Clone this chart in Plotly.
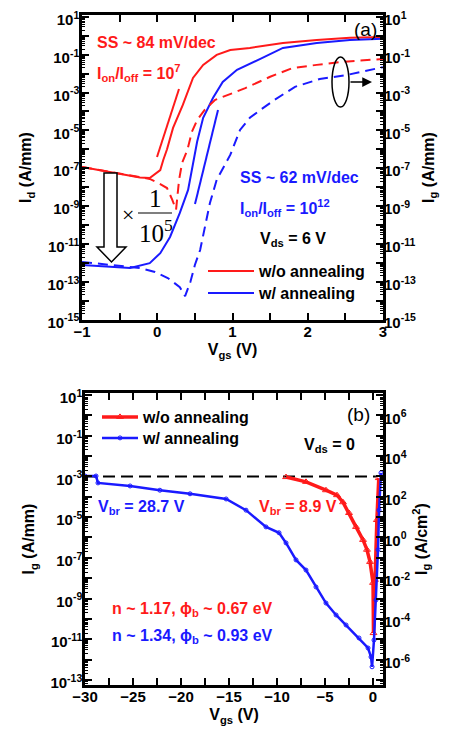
import plotly.graph_objects as go

# ---------------- data ----------------
# (a) transfer curves, Vds = 6 V
vgs_id_wo = [-1, -0.63, -0.23, -0.10, 0.04, 0.08, 0.13, 0.21, 0.34, 0.475, 0.61, 0.79, 0.97, 1.23, 1.67, 2.12, 2.56, 3.0]
id_wo = [1.15e-7, 6.3e-8, 3.2e-8, 3.0e-8, 7.9e-8, 2.7e-7, 1.0e-6, 1.35e-5, 2.2e-4, 5.9e-3, 2.9e-2, 9.8e-2, 0.178, 0.229, 0.417, 0.60, 0.78, 0.87]

vgs_id_w = [-1, -0.36, -0.10, 0.04, 0.17, 0.30, 0.41, 0.46, 0.53, 0.61, 0.74, 0.87, 1.06, 1.37, 1.67, 2.12, 2.56, 3.0]
id_w = [7.6e-13, 5.2e-13, 9.5e-13, 3.2e-12, 2.3e-11, 4.3e-10, 7.1e-9, 1.0e-7, 2.5e-6, 4.6e-5, 5.1e-4, 3.6e-3, 1.6e-2, 6.0e-2, 0.229, 0.417, 0.60, 0.69]

vgs_ig_wo = [-1, -0.63, -0.23, -0.10, 0.04, 0.13, 0.20, 0.25, 0.29, 0.33, 0.40, 0.46, 0.53, 0.63, 0.77, 0.93, 1.17, 1.50, 1.80, 2.12, 2.47, 3.0]
ig_wo = [1.15e-7, 6.3e-8, 3.2e-8, 2.7e-8, 1.45e-8, 8.9e-9, 2.1e-9, 6.3e-10, 2.4e-8, 1.9e-7, 9.1e-7, 8.3e-6, 3.5e-5, 1.2e-4, 4.1e-4, 7.4e-4, 1.7e-3, 6.8e-3, 2.0e-2, 2.9e-2, 4.2e-2, 6.0e-2]

vgs_ig_w = [-1, -0.23, -0.03, 0.14, 0.30, 0.37, 0.44, 0.50, 0.57, 0.63, 0.70, 0.79, 0.86, 0.97, 1.10, 1.23, 1.37, 1.56, 1.83, 2.16, 2.52, 3.0]
ig_w = [1.1e-12, 5.2e-13, 3.2e-13, 1.55e-13, 5.1e-14, 1.7e-14, 9.5e-14, 7.6e-13, 4.7e-12, 7.8e-11, 1.45e-9, 2.4e-8, 7.9e-8, 5.0e-7, 1.05e-5, 4.6e-5, 1.2e-4, 4.1e-4, 2.0e-3, 5.2e-3, 8.5e-3, 2.2e-2]

# (b) gate diode, Vds = 0
vgs_b_wo = [-9.06, -6.98, -4.90, -3.75, -3.13, -2.50, -1.77, -1.04, -0.63, -0.31, 0.0, 0.05, 0.2, 0.4, 0.6]
ig_b_wo = [9.3e-4, 5.4e-4, 2.1e-4, 1.2e-4, 5.4e-5, 1.6e-5, 3.3e-6, 7.6e-7, 2.5e-7, 6.3e-8, 5.9e-9, 2.0e-11, 8.3e-9, 7.2e-6, 8.3e-4]

vgs_b_w = [-30, -28.85, -28.65, -25.3, -22.2, -19.06, -15.3, -13.23, -11.15, -9.79, -9.06, -8.02, -6.98, -5.94, -4.90, -3.85, -2.81, -1.46, -0.52, -0.21, -0.10, 0.10, 0.31, 0.52, 0.63, 0.83]
ig_b_w = [1.05e-3, 1.05e-3, 4.8e-4, 3.4e-4, 2.1e-4, 1.4e-4, 7.8e-5, 2.2e-5, 3.3e-6, 1.7e-6, 5.4e-7, 7.9e-8, 2.5e-8, 3.7e-9, 6.0e-10, 1.55e-10, 5.0e-11, 1.15e-11, 3.7e-12, 1.35e-12, 4.4e-13, 9.1e-12, 8.5e-10, 2.5e-7, 2.2e-5, 1.5e-3]

compliance_v = [-30, 0.3]
compliance_i = [1e-3, 1e-3]

# tick labels
a_x_ticks = [-1, 0, 1, 2, 3]
a_y_label_exps = [1, -1, -3, -5, -7, -9, -11, -13, -15]
b_x_ticks = [-30, -25, -20, -15, -10, -5, 0]
b_left_label_exps = [1, -1, -3, -5, -7, -9, -11, -13]
b_right_label_exps = [6, 4, 2, 0, -2, -4, -6]

RED = "#ff1a1a"
BLUE = "#1a1aff"
FONT = "Liberation Sans"

# ---------------- geometry helpers (decorations only) ----------------
W, H = 452, 730
ML, MR, MT, MB = 82, 69, 15, 45
PW, PH = W - ML - MR, H - MT - MB


def fx(x):
    return (x - ML) / PW


def fy(y):
    return (H - MB - y) / PH


def log_ticks(lo, hi, label_exps):
    vals, texts = [], []
    for e in range(lo, hi + 1):
        vals.append(10.0 ** e)
        texts.append(f"10<sup>{e}</sup>" if e in label_exps else "")
    minor = [m * 10.0 ** e for e in range(lo - 1, hi + 1) for m in range(2, 10)]
    return vals, texts, minor


fig = go.Figure()

# (a) traces
fig.add_trace(go.Scatter(x=vgs_id_wo, y=id_wo, mode="lines", line=dict(color=RED, width=2),
                         name="w/o annealing", xaxis="x", yaxis="y", legend="legend"))
fig.add_trace(go.Scatter(x=vgs_id_w, y=id_w, mode="lines", line=dict(color=BLUE, width=2),
                         name="w/ annealing", xaxis="x", yaxis="y", legend="legend3"))
fig.add_trace(go.Scatter(x=vgs_ig_wo, y=ig_wo, mode="lines", line=dict(color=RED, width=2, dash="10px,6px"),
                         showlegend=False, xaxis="x", yaxis="y3"))
fig.add_trace(go.Scatter(x=vgs_ig_w, y=ig_w, mode="lines", line=dict(color=BLUE, width=2, dash="10px,6px"),
                         showlegend=False, xaxis="x", yaxis="y3"))

# (b) traces
fig.add_trace(go.Scatter(x=compliance_v, y=compliance_i, mode="lines",
                         line=dict(color="black", width=2, dash="12px,6px"),
                         showlegend=False, xaxis="x2", yaxis="y2"))
fig.add_trace(go.Scatter(x=vgs_b_wo, y=ig_b_wo, mode="lines+markers",
                         line=dict(color=RED, width=3.5),
                         marker=dict(symbol="triangle-up-open", size=6, color=RED, line=dict(width=1)),
                         name="w/o annealing", xaxis="x2", yaxis="y2", legend="legend2"))
fig.add_trace(go.Scatter(x=vgs_b_w, y=ig_b_w, mode="lines+markers",
                         line=dict(color=BLUE, width=2.5),
                         marker=dict(symbol="circle-open", size=4, color=BLUE, line=dict(width=1)),
                         name="w/ annealing", xaxis="x2", yaxis="y2", legend="legend4"))
# empty trace so that the right-hand (A/cm^2) axis of (b) is drawn
fig.add_trace(go.Scatter(x=[], y=[], mode="lines", showlegend=False, hoverinfo="skip",
                         xaxis="x2", yaxis="y4"))

tickfont = dict(family=FONT, size=15, color="black", weight="bold")
titlefont = dict(family=FONT, size=16, color="black", weight="bold")

common_axis = dict(showline=True, linecolor="black", linewidth=2.5, ticks="inside",
                   tickcolor="black", tickwidth=2, ticklen=7, showgrid=False, zeroline=False,
                   tickfont=tickfont, automargin=False)

a_dom = [fy(320), fy(15)]
b_dom = [fy(685), fy(393)]

ay_vals, ay_text, ay_minor = log_ticks(-15, 1, a_y_label_exps)
by_vals, by_text, by_minor = log_ticks(-13, 1, b_left_label_exps)
br_vals, br_text, br_minor = log_ticks(-7, 7, b_right_label_exps)

legfont = dict(family=FONT, size=16, color="black", weight="bold")


def leg(x, y, w):
    return dict(x=fx(x), y=fy(y), xanchor="left", yanchor="middle", bgcolor="rgba(0,0,0,0)",
                font=legfont, itemwidth=w, tracegroupgap=0, borderwidth=0)


xa_extra = dict(ticklabelstandoff=-4)
ya_left_extra = dict(ticklabelstandoff=-3, ticklabelshift=3)
ya_right_extra = dict(ticklabelstandoff=0, ticklabelshift=3)

fig.update_layout(
    width=W, height=H,
    margin=dict(l=ML, r=MR, t=MT, b=MB, autoexpand=False),
    paper_bgcolor="white", plot_bgcolor="white",
    font=dict(family=FONT, color="black"),
    xaxis=dict(**common_axis, **xa_extra, domain=[0, 1], anchor="y", range=[-1, 3],
               tickvals=a_x_ticks, mirror="allticks",
               minor=dict(tickvals=[-0.5, 0.5, 1.5, 2.5], ticklen=4, tickwidth=2, tickcolor="black", ticks="inside"),
               title=dict(text="V<sub>gs</sub> (V)", font=titlefont, standoff=6)),
    yaxis=dict(**common_axis, **ya_left_extra, type="log", domain=a_dom, anchor="x", range=[-15.03, 1.1],
               tickvals=ay_vals, ticktext=ay_text, mirror="allticks",
               minor=dict(tickvals=ay_minor, ticklen=3, tickwidth=1, tickcolor="black", ticks="inside"),
               title=dict(text="I<sub>d</sub> (A/mm)", font=titlefont, standoff=12)),
    yaxis3=dict(type="log", overlaying="y", side="right", anchor="x", range=[-15.03, 1.1],
                tickvals=ay_vals, ticktext=ay_text, ticks="", showline=False, showgrid=False,
                zeroline=False, tickfont=tickfont, automargin=False, **ya_right_extra,
                title=dict(text="I<sub>g</sub> (A/mm)", font=titlefont, standoff=7)),
    xaxis2=dict(**common_axis, **xa_extra, domain=[fx(85), 1], anchor="y2", range=[-30, 1.04],
                tickvals=b_x_ticks, mirror="allticks",
                minor=dict(tickvals=[-27.5, -22.5, -17.5, -12.5, -7.5, -2.5], ticklen=4, tickwidth=2,
                           tickcolor="black", ticks="inside"),
                title=dict(text="V<sub>gs</sub> (V)", font=titlefont, standoff=6)),
    yaxis2=dict(**common_axis, **ya_left_extra, type="log", domain=b_dom, anchor="x2", range=[-13.25, 1.1],
                tickvals=by_vals, ticktext=by_text, mirror="allticks",
                minor=dict(tickvals=by_minor, ticklen=3, tickwidth=1, tickcolor="black", ticks="inside"),
                title=dict(text="I<sub>g</sub> (A/mm)", font=titlefont, standoff=12)),
    yaxis4=dict(type="log", overlaying="y2", side="right", anchor="x2", range=[-7.25, 7.1],
                tickvals=br_vals, ticktext=br_text, ticks="", showline=False, showgrid=False,
                zeroline=False, tickfont=tickfont, automargin=False, **ya_right_extra,
                title=dict(text="I<sub>g</sub> (A/cm<sup>2</sup>)", font=titlefont, standoff=4)),
    legend=leg(203, 271, 46),
    legend3=leg(203, 293, 46),
    legend2=leg(97, 417, 36),
    legend4=leg(97, 438, 36),
)

ann = []


def text(t, x, y, color="black", size=16, xanchor="left", bold=True, family=FONT):
    ann.append(dict(text=t, x=fx(x), y=fy(y), xref="paper", yref="paper", showarrow=False,
                    xanchor=xanchor, yanchor="middle",
                    font=dict(family=family, size=size, color=color, weight="bold" if bold else "normal")))


# (a) annotations
text("SS ~ 84 mV/dec", 95, 42, RED)
text("I<sub>on</sub>/I<sub>off</sub> = 10<sup>7</sup>", 95, 73, RED)
text("SS ~ 62 mV/dec", 238, 177, BLUE)
text("I<sub>on</sub>/I<sub>off</sub> = 10<sup>12</sup>", 238, 208, BLUE)
text("V<sub>ds</sub> = 6 V", 258, 239, "black")
text("(a)", 365, 30, "black", size=19, xanchor="center", bold=False)
text("×", 128, 214, "black", size=22, xanchor="center", bold=False, family="Liberation Serif")
text("1", 155, 198, "black", size=25, xanchor="center", bold=False, family="Liberation Serif")
text("10<sup>5</sup>", 156, 231, "black", size=25, xanchor="center", bold=False, family="Liberation Serif")

# (b) annotations
text("(b)", 358, 415, "black", size=19, xanchor="center", bold=False)
text("V<sub>ds</sub> = 0", 302, 446, "black")
text("V<sub>br</sub> = 28.7 V", 96, 507, BLUE)
text("V<sub>br</sub> = 8.9 V", 257, 507, RED)
text("n ~ 1.17, ϕ<sub>b</sub> ~ 0.67 eV", 110, 609, RED)
text("n ~ 1.34, ϕ<sub>b</sub> ~ 0.93 eV", 110, 636, BLUE)

# arrow from ellipse to right axis
ann.append(dict(x=fx(372), y=fy(82), ax=-23, ay=0, xref="paper", yref="paper",
                text="", showarrow=True, arrowhead=2,
                arrowsize=1.3, arrowwidth=1.5, arrowcolor="black"))

fig.update_layout(annotations=ann)

shapes = []
# slope indicator lines
shapes.append(dict(type="line", xref="paper", yref="paper", x0=fx(157), y0=fy(157), x1=fx(179), y1=fy(89),
                   line=dict(color=RED, width=2)))
shapes.append(dict(type="line", xref="paper", yref="paper", x0=fx(218), y0=fy(110), x1=fx(195), y1=fy(204),
                   line=dict(color=BLUE, width=2)))
# ellipse
shapes.append(dict(type="circle", xref="paper", yref="paper", x0=fx(332), x1=fx(349), y0=fy(107), y1=fy(57),
                   line=dict(color="black", width=1.5)))
# fraction bar
shapes.append(dict(type="line", xref="paper", yref="paper", x0=fx(138), y0=fy(213), x1=fx(172), y1=fy(213),
                   line=dict(color="black", width=1.2)))
# hollow down arrow
pts = [(104, 173), (117, 173), (117, 247), (126, 247), (111.5, 262), (97, 247), (104, 247)]
path = "M " + " L ".join(f"{fx(a)},{fy(b)}" for a, b in pts) + " Z"
shapes.append(dict(type="path", xref="paper", yref="paper", path=path, fillcolor="white",
                   line=dict(color="black", width=1.5)))
fig.update_layout(shapes=shapes)

fig.write_html("out.html", config={"displayModeBar": False},
               post_script="document.body.style.margin='0';document.body.style.overflow='hidden';")
